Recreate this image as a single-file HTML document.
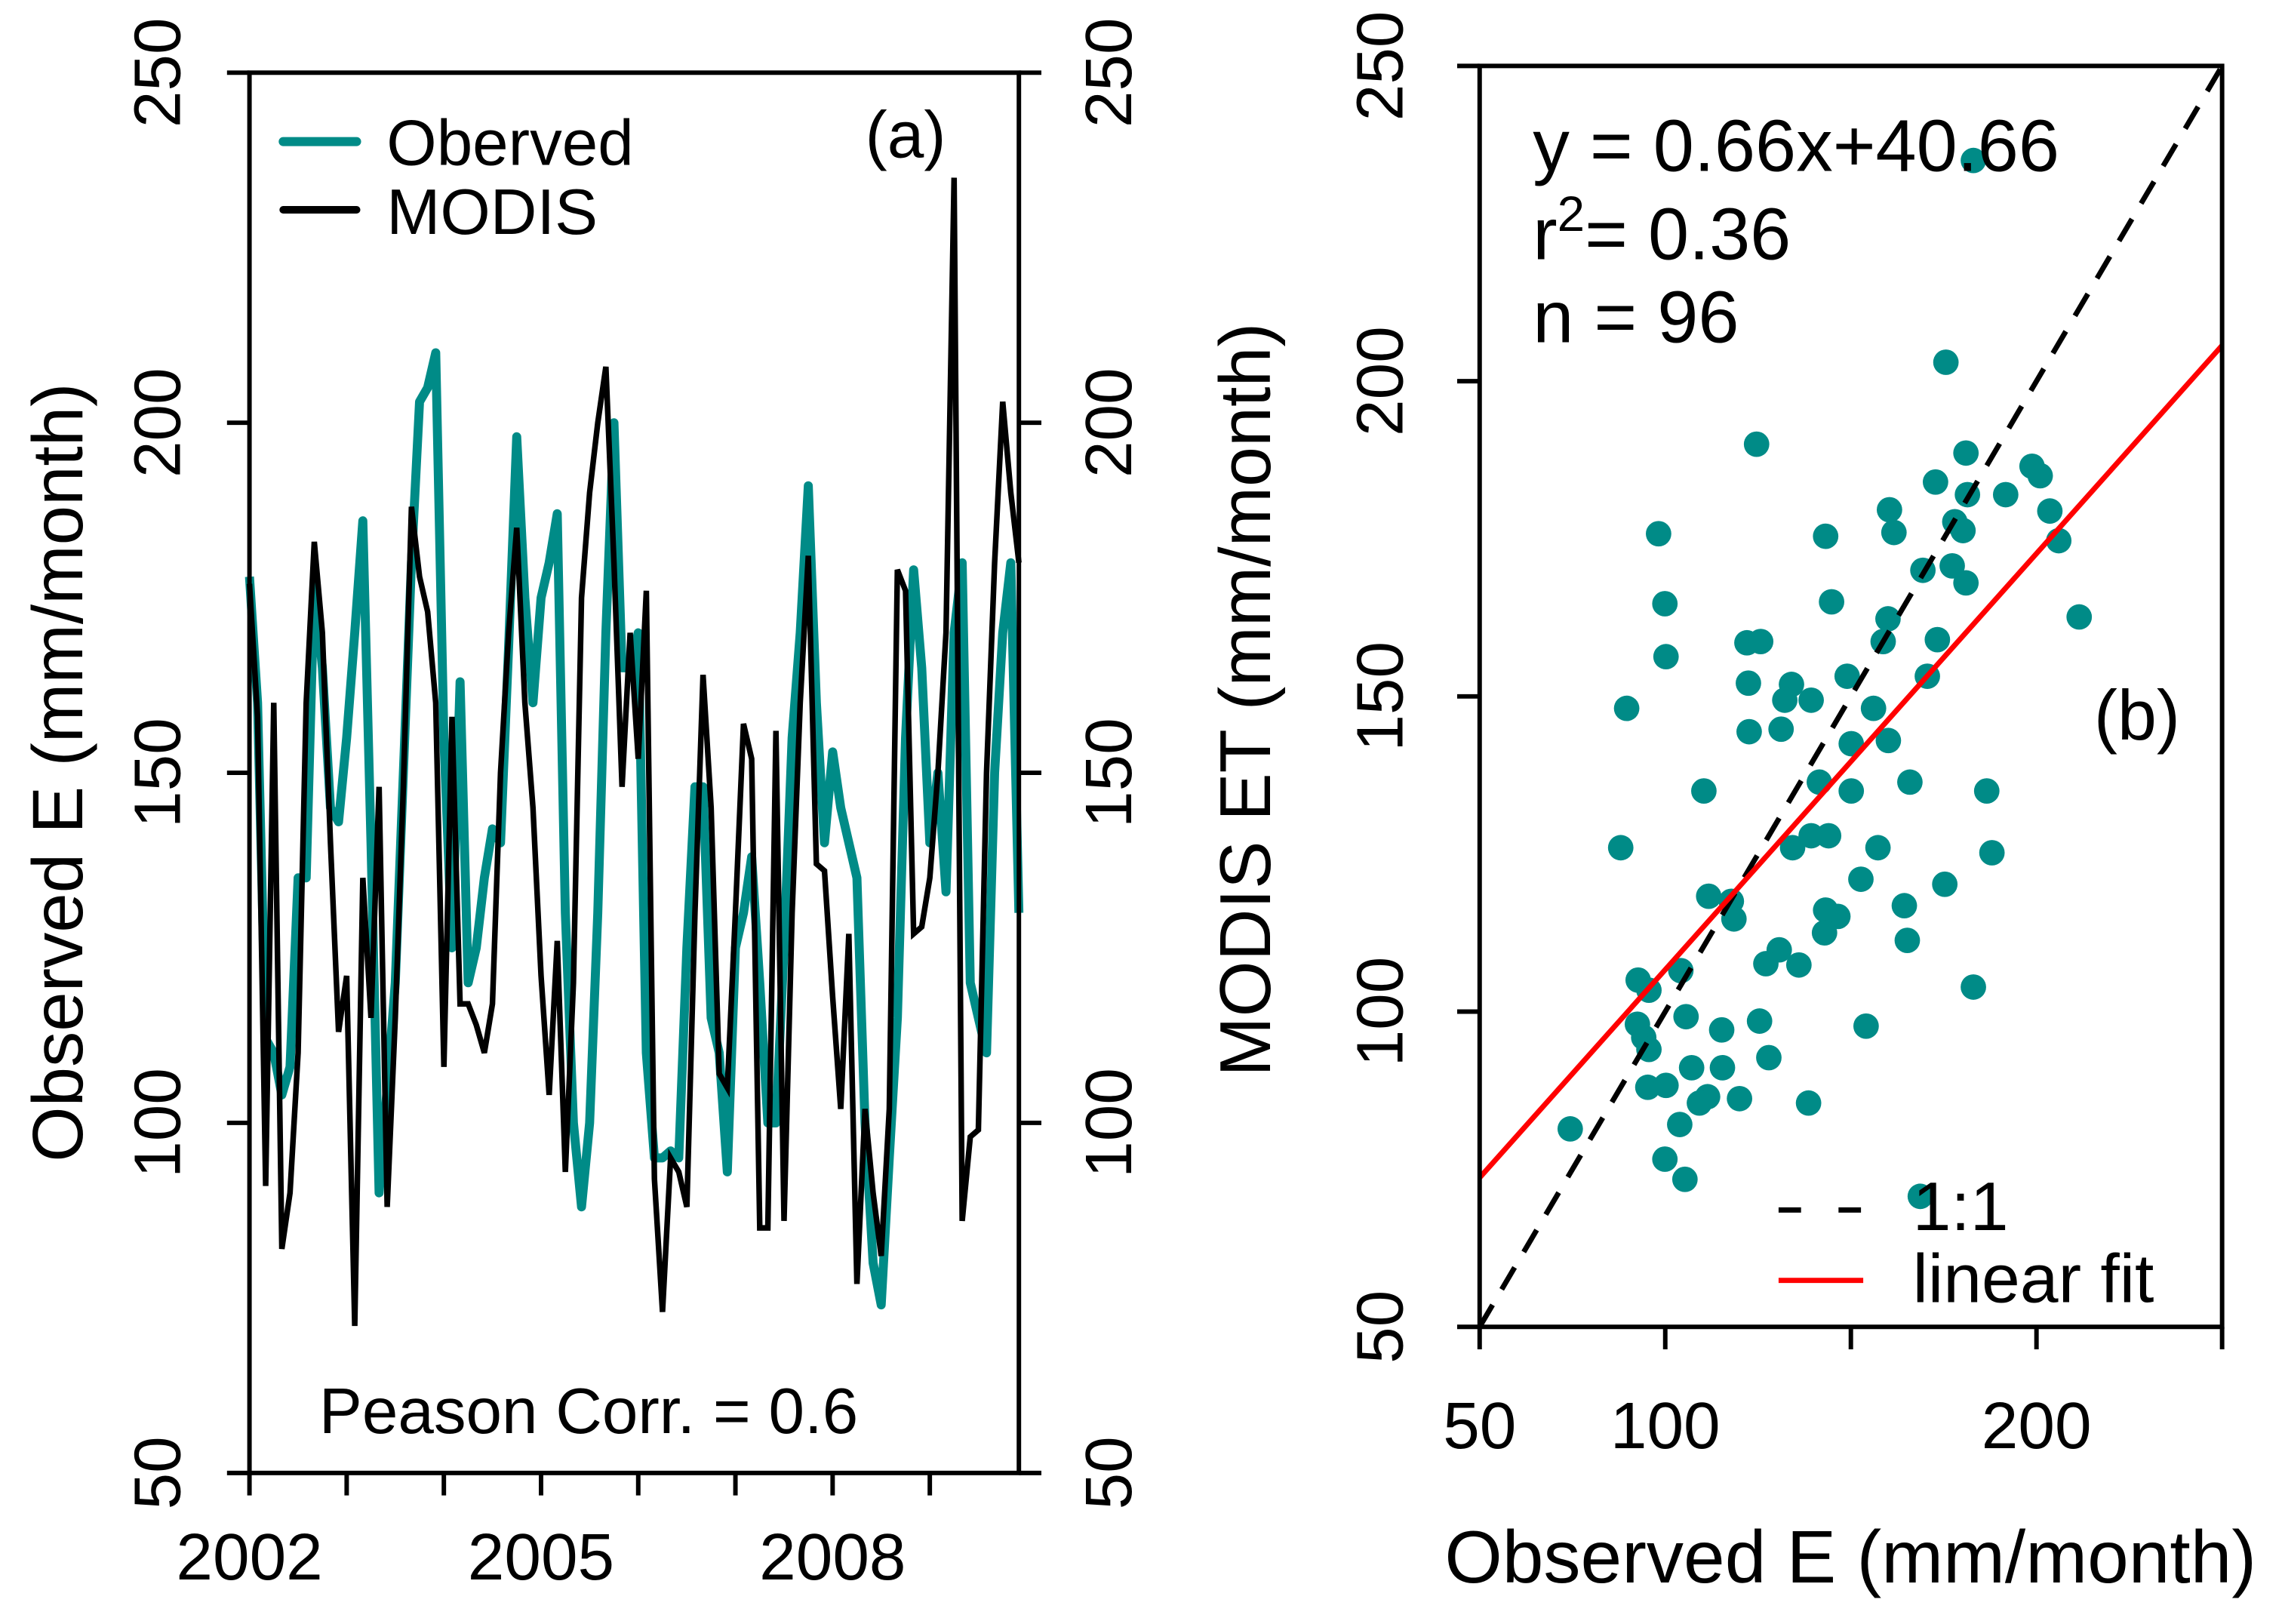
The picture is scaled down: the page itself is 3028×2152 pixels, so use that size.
<!DOCTYPE html>
<html><head><meta charset="utf-8"><style>
html,body{margin:0;padding:0;background:#fff;}
svg{display:block;font-family:"Liberation Sans",Arial,sans-serif;}
</style></head><body>
<svg id="fig" width="3028" height="2152" viewBox="0 0 3028 2152" xmlns="http://www.w3.org/2000/svg">
<g transform="scale(0.9928)">
<g id="panelA"></g>
<g id="panelB"></g>
</g>
</svg>
<script>
// ---------- Panel (a) data ----------
const monthsCount = 96;
const startYear = 2002;
const observedE = [178,160,112,110,104,108,135,135,177,165,145,143,155,170,186,140,90,105,120,150,180,203,205,210,155,125,163,120,125,135,142,140,168,198,175,160,175,180,187,130,100,88,100,130,170,200,165,165,170,110,95,95,96,95,125,148,148,115,110,93,125,130,138,120,100,100,125,155,170,191,160,140,153,145,140,135,100,80,74,95,115,155,179,165,140,150,133,170,180,120,115,110,150,170,180,130];
const modisET = [177,158,91,160,82,90,110,160,183,170,140,113,121,71,135,115,148,88,115,148,188,178,173,160,108,158,117,117,114,110,117,150,170,185,160,145,121,104,126,93,120,175,190,200,208,180,148,170,152,176,92,73,95,93,88,130,164,145,107,105,130,157,152,85,85,156,86,130,160,181,137,136,118,102,127,77,102,90,81,102,179,176,127,128,135,150,170,235,86,98,99,150,180,203,190,180];
const yTicksA = [50,100,150,200,250];
const yearTicks = [2002,2003,2004,2005,2006,2007,2008,2009];
const yearLabels = [2002,2005,2008];
// ---------- Panel (b) data ----------
const scatterObs = [183,175.6,124.6,181,172.8,198.8,201,191.7,181.4,160.4,161.6,178,180.2,203.6,206,98.2,143.2,169.4,177.3,181,99.9,144.8,211.5,160,158.7,173.3,122,125.7,100.2,170.6,149,122.4,134,132.2,139.3,89.6,156.1,122.6,131.2,150.1,160.1,165.9,186.6,110.4,141.5,150.1,88,134.3,139.3,144,157.3,188,152.7,175.3,111.7,117.8,118.5,143.2,146.5,142.9,164.4,165.2,130.7,127.1,136,183,92.7,95.6,104.2,92.5,94.2,95.6,105.6,115.2,125.4,154.1,127.9,107.1,115.4,95.3,100.2,111.4,109.2,120,138.6,74.4,103.9,99.9,105.3,168.7];
const scatterMod = [235,203,190,188.6,184,186.5,185,182,182,179.6,176,177.7,176.3,179.4,174.7,175.8,175.4,170,170.7,168,164.7,165,162.6,162.3,158.7,159,158.5,158.7,156.3,153.2,153.2,152.1,151.9,149.4,149.4,148.1,148.1,144.4,144.8,142.5,143,136.4,135,135,136.4,135,126,126,127.9,127.9,126,125.2,121,120.2,118.3,117.5,114.7,116.1,115.1,112.5,116.8,111.3,109.8,107.6,107.4,103.9,105,103.4,106.5,98,95.9,94,99.2,97.1,98.5,97.7,92.7,91.1,91.1,88,88.3,86.5,85.5,86.2,85.5,81.4,82.1,76.6,73.4,70.7];
const fitSlope = 0.66;
const fitIntercept = 40.66;
const xTicksB = [50,100,150,200,250];
const xLabelsB = [50,100,200];
const yTicksB = [50,100,150,200,250];

const NS = "http://www.w3.org/2000/svg";
function mk(parent, tag, attrs, text){
  const e = document.createElementNS(NS, tag);
  for (const k in attrs) e.setAttribute(k, attrs[k]);
  if (text !== undefined) e.textContent = text;
  parent.appendChild(e);
  return e;
}
const TEAL = "#008b87";
const AXW = 6;

// ---------- Panel (a) ----------
const A = document.getElementById('panelA');
const aL = 333, aR = 1360, aT = 97, aB = 1966;
const yA = v => aB - (v - 50) / 200 * (aB - aT);
const tA = t => aL + (t - startYear) / ((monthsCount - 1) / 12) * (aR - aL);
const xMonth = i => tA(startYear + i / 12);

let d = "";
observedE.forEach((v, i) => { d += (i ? "L" : "M") + xMonth(i).toFixed(1) + " " + yA(v).toFixed(1); });
const obsLine = mk(A, 'path', {d: d, fill: 'none', stroke: TEAL, 'stroke-width': 12, 'stroke-linejoin': 'round'});


d = "";
modisET.forEach((v, i) => { d += (i ? "L" : "M") + xMonth(i).toFixed(1) + " " + yA(v).toFixed(1); });
const modLine = mk(A, 'path', {d: d, fill: 'none', stroke: '#000', 'stroke-width': 7.5, 'stroke-linejoin': 'miter'});



const boxA = mk(A, 'rect', {x: aL, y: aT, width: aR - aL, height: aB - aT, fill: 'none', stroke: '#000', 'stroke-width': AXW});



yTicksA.forEach(v => {
  const y = yA(v);
  mk(A, 'line', {x1: aL - 30, x2: aL, y1: y, y2: y, stroke: '#000', 'stroke-width': AXW});
  mk(A, 'line', {x1: aR, x2: aR + 30, y1: y, y2: y, stroke: '#000', 'stroke-width': AXW});
  const tl = mk(A, 'text', {x: 0, y: 0, transform: `translate(240 ${y}) rotate(-90)`, 'text-anchor': 'middle', 'font-size': 88}, v);
  
  
  const tr = mk(A, 'text', {x: 0, y: 0, transform: `translate(1510 ${y}) rotate(-90)`, 'text-anchor': 'middle', 'font-size': 88}, v);
  
  
});
yearTicks.forEach(t => {
  const x = tA(t);
  mk(A, 'line', {x1: x, x2: x, y1: aB, y2: aB + 30, stroke: '#000', 'stroke-width': AXW});
});
yearLabels.forEach(t => {
  const xl = mk(A, 'text', {x: tA(t), y: 2108, 'text-anchor': 'middle', 'font-size': 88}, t);
  
  
});
const ytA = mk(A, 'text', {transform: 'translate(110 1031) rotate(-90)', 'text-anchor': 'middle', 'font-size': 95}, 'Observed E (mm/month)');



const lg1 = mk(A, 'line', {x1: 378, x2: 476, y1: 189, y2: 189, stroke: TEAL, 'stroke-width': 12, 'stroke-linecap': 'round'});


const lt1 = mk(A, 'text', {x: 516, y: 220, 'font-size': 86}, 'Oberved');


const lg2 = mk(A, 'line', {x1: 378, x2: 476, y1: 280, y2: 280, stroke: '#000', 'stroke-width': 10, 'stroke-linecap': 'round'});


const lt2 = mk(A, 'text', {x: 516, y: 312, 'font-size': 86}, 'MODIS');


const pa = mk(A, 'text', {x: 1155, y: 210, 'font-size': 88}, '(a)');


const pc = mk(A, 'text', {x: 426, y: 1913, 'font-size': 86}, 'Peason Corr. = 0.6');



// ---------- Panel (b) ----------
const B = document.getElementById('panelB');
const bL = 1975, bR = 2966, bT = 88, bB = 1771;
const xB = v => bL + (v - 50) / 200 * (bR - bL);
const yB = v => bB - (v - 50) / 200 * (bB - bT);

scatterObs.forEach((x, i) => {
  const c = mk(B, 'circle', {cx: xB(x), cy: yB(scatterMod[i]), r: 17, fill: TEAL});
  
  
});
const one = mk(B, 'line', {x1: xB(50), y1: yB(50), x2: xB(250), y2: yB(250), stroke: '#000', 'stroke-width': 7, 'stroke-dasharray': '34 24'});


const fit = mk(B, 'line', {x1: xB(50), y1: yB(fitSlope * 50 + fitIntercept), x2: xB(250), y2: yB(fitSlope * 250 + fitIntercept), stroke: '#ff0000', 'stroke-width': 7});



const boxB = mk(B, 'rect', {x: bL, y: bT, width: bR - bL, height: bB - bT, fill: 'none', stroke: '#000', 'stroke-width': AXW});


yTicksB.forEach(v => {
  const y = yB(v);
  mk(B, 'line', {x1: bL - 30, x2: bL, y1: y, y2: y, stroke: '#000', 'stroke-width': AXW});
  const t = mk(B, 'text', {transform: `translate(1872 ${y}) rotate(-90)`, 'text-anchor': 'middle', 'font-size': 88}, v);
  
  
});
xTicksB.forEach(v => {
  const x = xB(v);
  mk(B, 'line', {x1: x, x2: x, y1: bB, y2: bB + 30, stroke: '#000', 'stroke-width': AXW});
});
xLabelsB.forEach(v => {
  const t = mk(B, 'text', {x: xB(v), y: 1933, 'text-anchor': 'middle', 'font-size': 88}, v);
  
  
});
const xtB = mk(B, 'text', {x: 2470, y: 2112, 'text-anchor': 'middle', 'font-size': 99}, 'Observed E (mm/month)');


const ytB = mk(B, 'text', {transform: 'translate(1695 934) rotate(-90)', 'text-anchor': 'middle', 'font-size': 96}, 'MODIS ET (mm/month)');



const eq = mk(B, 'text', {x: 2046, y: 228, 'font-size': 98}, 'y = 0.66x+40.66');


const r2 = mk(B, 'text', {x: 2046, y: 346, 'font-size': 98});


r2.innerHTML = 'r<tspan dy="-38" font-size="66">2</tspan><tspan dy="38">= 0.36</tspan>';
const nn = mk(B, 'text', {x: 2046, y: 457, 'font-size': 98}, 'n = 96');


const pb = mk(B, 'text', {x: 2795, y: 987, 'font-size': 94}, '(b)');


const l1 = mk(B, 'line', {x1: 2374, x2: 2487, y1: 1615, y2: 1615, stroke: '#000', 'stroke-width': 7, 'stroke-dasharray': '30 50'});


const l1t = mk(B, 'text', {x: 2553, y: 1642, 'font-size': 92}, '1:1');


const l2 = mk(B, 'line', {x1: 2374, x2: 2487, y1: 1709, y2: 1709, stroke: '#ff0000', 'stroke-width': 7});


const l2t = mk(B, 'text', {x: 2553, y: 1738, 'font-size': 92}, 'linear fit');


</script>
</body></html>
